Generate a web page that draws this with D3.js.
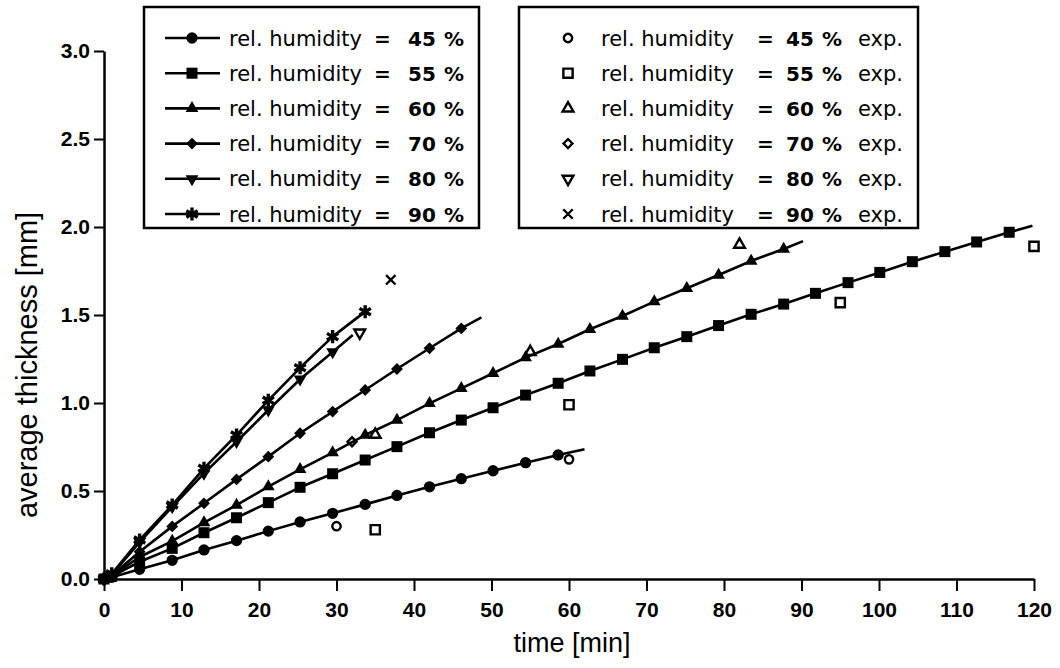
<!DOCTYPE html>
<html>
<head>
<meta charset="utf-8">
<script src="https://cdn.jsdelivr.net/npm/d3@7"></script>
<style>
  html, body { margin: 0; padding: 0; background: #fff; }
  svg { display: block; }
</style>
</head>
<body>
<svg id="chart" width="1060" height="668"></svg>
<script>
// ---------- DATA ----------
const modelTimes = [0, 1, 4.6, 8.8, 12.9, 17.1, 21.2, 25.3, 29.5, 33.7, 37.8, 42.0, 46.1, 50.2, 54.4, 58.6,
  62.7, 66.9, 71.0, 75.2, 79.3, 83.5, 87.7, 91.8, 96.0, 100.1, 104.3, 108.5, 112.6, 116.8];

const humidityLevels = ["45", "55", "60", "70", "80", "90"];

const model45 = [0, 0.01, 0.055, 0.106, 0.165, 0.218, 0.272, 0.324, 0.373, 0.424, 0.475, 0.524, 0.570, 0.615, 0.661, 0.705];
const model55 = [0, 0.015, 0.098, 0.174, 0.263, 0.348, 0.434, 0.521, 0.598, 0.676, 0.752, 0.831, 0.903, 0.973, 1.045, 1.112,
  1.182, 1.248, 1.314, 1.377, 1.440, 1.504, 1.562, 1.623, 1.684, 1.742, 1.803, 1.860, 1.915, 1.970];
const model60 = [0, 0.018, 0.125, 0.215, 0.320, 0.420, 0.525, 0.623, 0.718, 0.818, 0.903, 0.998, 1.083, 1.169, 1.258, 1.335,
  1.419, 1.494, 1.576, 1.652, 1.727, 1.807, 1.875];
const model70 = [0, 0.02, 0.155, 0.299, 0.430, 0.566, 0.695, 0.828, 0.951, 1.074, 1.193, 1.311, 1.424];
const model80 = [0, 0.025, 0.210, 0.410, 0.600, 0.780, 0.960, 1.135, 1.290];
const model90 = [0, 0.03, 0.222, 0.420, 0.629, 0.818, 1.015, 1.200, 1.377, 1.519];

// line continues (no marker) to these end points
const modelEndTime  = [62.0, 119.8, 90.2, 48.7, 32.1, null];
const modelEndValue = [0.737, 2.007, 1.920, 1.487, 1.386, null];

// experimental points
const exp45Time = [30, 60];          const exp45Value = [0.30, 0.68];
const exp55Time = [35, 60, 95, 120]; const exp55Value = [0.28, 0.99, 1.57, 1.89];
const exp60Time = [35, 55, 82];      const exp60Value = [0.82, 1.29, 1.90];
const exp70Time = [32];              const exp70Value = [0.78];
const exp80Time = [33];              const exp80Value = [1.40];
const exp90Time = [37];              const exp90Value = [1.70];

const xTicks = [0, 10, 20, 30, 40, 50, 60, 70, 80, 90, 100, 110, 120];
const yTicks = [0, 0.5, 1.0, 1.5, 2.0, 2.5, 3.0];

const xTitle = "time [min]";
const yTitle = "average thickness [mm]";

// ---------- SETUP ----------
const svg = d3.select("#chart");
const x = d3.scaleLinear().domain([0, 120]).range([104, 1034]);
const y = d3.scaleLinear().domain([0, 3]).range([579, 51]);

const modelValues = [model45, model55, model60, model70, model80, model90];
const expTimes = [exp45Time, exp55Time, exp60Time, exp70Time, exp80Time, exp90Time];
const expValues = [exp45Value, exp55Value, exp60Value, exp70Value, exp80Value, exp90Value];

// marker definitions
const filledSymbols = [
  {type: d3.symbolCircle, size: 100, rot: 0, stroke: false},
  {type: d3.symbolSquare, size: 121, rot: 0, stroke: false},
  {type: d3.symbolTriangle, size: 70, rot: 0, stroke: false},
  {type: d3.symbolSquare, size: 70, rot: 45, stroke: false},
  {type: d3.symbolTriangle, size: 70, rot: 180, stroke: false},
  {type: d3.symbolAsterisk, size: 120, rot: 0, stroke: true}
];
const openSymbols = [
  {type: d3.symbolCircle, size: 55, rot: 0},
  {type: d3.symbolSquare, size: 85, rot: 0},
  {type: d3.symbolTriangle, size: 50, rot: 0},
  {type: d3.symbolSquare, size: 40, rot: 45},
  {type: d3.symbolTriangle, size: 50, rot: 180},
  {type: d3.symbolTimes, size: 60, rot: 0}
];

function drawFilled(g, i, cx, cy) {
  const s = filledSymbols[i];
  const p = g.append("path")
    .attr("d", d3.symbol().type(s.type).size(s.size)())
    .attr("transform", `translate(${cx},${cy}) rotate(${s.rot})`);
  if (s.stroke) p.attr("fill", "none").attr("stroke", "#000").attr("stroke-width", 3.4);
  else p.attr("fill", "#000");
}
function drawOpen(g, i, cx, cy) {
  const s = openSymbols[i];
  g.append("path")
    .attr("d", d3.symbol().type(s.type).size(s.size)())
    .attr("transform", `translate(${cx},${cy}) rotate(${s.rot})`)
    .attr("fill", "none").attr("stroke", "#000").attr("stroke-width", 2.4);
}

// ---------- AXES ----------
const axisFont = "'Liberation Sans', Arial, sans-serif";

const gx = svg.append("g").attr("transform", `translate(0,${y(0)})`);
gx.call(d3.axisBottom(x).tickValues(d3.range(0, 121, 1)).tickSize(5).tickFormat("").tickSizeOuter(0));
gx.call(d3.axisBottom(x).tickValues(xTicks).tickSize(12).tickPadding(11).tickFormat(d3.format("d")).tickSizeOuter(0));
gx.selectAll("path.domain").attr("stroke-width", 2.5);
gx.selectAll(".tick line").attr("stroke-width", 2);
gx.selectAll("text").attr("font-family", axisFont).attr("font-weight", "bold").attr("font-size", 21).attr("fill", "#000");

const gy = svg.append("g").attr("transform", `translate(${x(0)},0)`);
gy.call(d3.axisLeft(y).tickValues(d3.range(0, 31, 1).map(d => d / 10)).tickSize(5).tickFormat("").tickSizeOuter(0));
gy.call(d3.axisLeft(y).tickValues(yTicks).tickSize(10).tickPadding(4).tickFormat(d3.format(".1f")).tickSizeOuter(0));
gy.selectAll("path.domain").attr("stroke-width", 2.5);
gy.selectAll(".tick line").attr("stroke-width", 2);
gy.selectAll("text").attr("font-family", axisFont).attr("font-weight", "bold").attr("font-size", 21).attr("fill", "#000");

svg.append("text")
  .attr("x", (x(0) + x(120)) / 2 + 3).attr("y", 652)
  .attr("text-anchor", "middle")
  .attr("font-family", axisFont).attr("font-size", 27)
  .text(xTitle);

svg.append("text")
  .attr("transform", `translate(37,${(y(0) + y(3)) / 2 + 50}) rotate(-90)`)
  .attr("text-anchor", "middle")
  .attr("font-family", axisFont).attr("font-size", 29)
  .text(yTitle);

// ---------- SERIES ----------
const line = d3.line().x(d => x(d[0])).y(d => y(d[1]));
const plot = svg.append("g");

modelValues.forEach((vals, i) => {
  const pts = vals.map((v, k) => [modelTimes[k], v]);
  const linePts = pts.slice();
  if (modelEndTime[i] !== null) linePts.push([modelEndTime[i], modelEndValue[i]]);
  plot.append("path").datum(linePts)
    .attr("d", line).attr("fill", "none").attr("stroke", "#000").attr("stroke-width", 2.6)
    .attr("stroke-linejoin", "round");
});
modelValues.forEach((vals, i) => {
  vals.forEach((v, k) => drawFilled(plot, i, x(modelTimes[k]), y(v)));
});
expTimes.forEach((ts, i) => {
  ts.forEach((t, k) => drawOpen(plot, i, x(t), y(expValues[i][k])));
});

// ---------- LEGENDS ----------
const legFont = "'DejaVu Sans', sans-serif";
const rowY = humidityLevels.map((d, i) => 38 + i * 35.2);

// legend 1 (model)
const l1 = svg.append("g");
l1.append("rect").attr("x", 144).attr("y", 7).attr("width", 335).attr("height", 221)
  .attr("fill", "#fff").attr("stroke", "#000").attr("stroke-width", 2.5);
humidityLevels.forEach((h, i) => {
  const cy = rowY[i];
  l1.append("line").attr("x1", 165).attr("x2", 220).attr("y1", cy).attr("y2", cy)
    .attr("stroke", "#000").attr("stroke-width", 2.6);
  drawFilled(l1, i, 192, cy);
  l1.append("text").attr("x", 229).attr("y", cy + 7.5).attr("font-family", legFont).attr("font-size", 21).text("rel. humidity");
  l1.append("text").attr("x", 374).attr("y", cy + 7.5).attr("font-family", legFont).attr("font-size", 20).attr("font-weight", "bold").text("=");
  l1.append("text").attr("x", 408).attr("y", cy + 7.5).attr("font-family", legFont).attr("font-size", 20).attr("font-weight", "bold").text(h);
  l1.append("text").attr("x", 444).attr("y", cy + 7.5).attr("font-family", legFont).attr("font-size", 20).attr("font-weight", "bold").text("%");
});

// legend 2 (experiment)
const l2 = svg.append("g");
l2.append("rect").attr("x", 519).attr("y", 7).attr("width", 399).attr("height", 221)
  .attr("fill", "#fff").attr("stroke", "#000").attr("stroke-width", 2.5);
humidityLevels.forEach((h, i) => {
  const cy = rowY[i];
  drawOpen(l2, i, 568, cy);
  l2.append("text").attr("x", 601).attr("y", cy + 7.5).attr("font-family", legFont).attr("font-size", 21).text("rel. humidity");
  l2.append("text").attr("x", 757).attr("y", cy + 7.5).attr("font-family", legFont).attr("font-size", 20).attr("font-weight", "bold").text("=");
  l2.append("text").attr("x", 786).attr("y", cy + 7.5).attr("font-family", legFont).attr("font-size", 20).attr("font-weight", "bold").text(h);
  l2.append("text").attr("x", 822).attr("y", cy + 7.5).attr("font-family", legFont).attr("font-size", 20).attr("font-weight", "bold").text("%");
  l2.append("text").attr("x", 858).attr("y", cy + 7.5).attr("font-family", legFont).attr("font-size", 21).text("exp.");
});
</script>
</body>
</html>
